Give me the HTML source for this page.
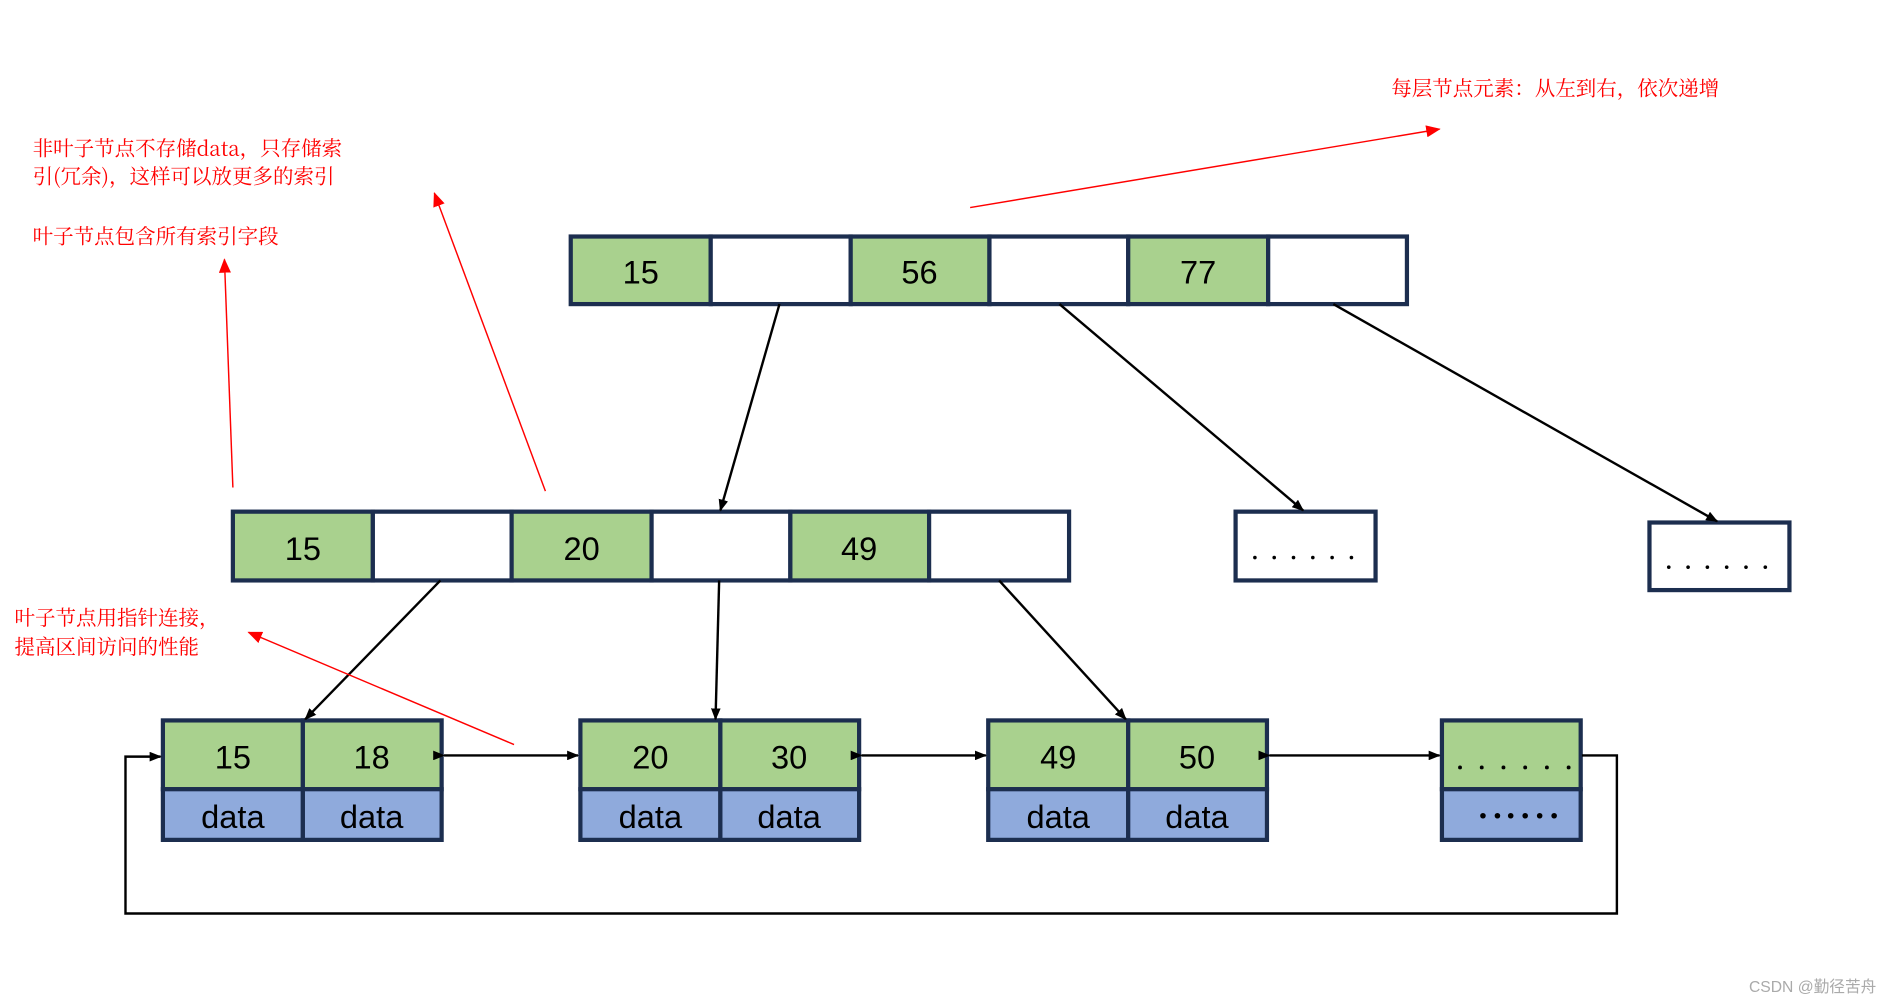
<!DOCTYPE html>
<html><head><meta charset="utf-8"><style>
html,body{margin:0;padding:0;background:#fff;}
svg{display:block}
.t{font-family:"Liberation Sans","Noto Sans CJK SC",sans-serif;fill:#000;font-size:27px;text-anchor:middle}
.r{font-family:"Noto Serif CJK SC","Noto Sans CJK SC",sans-serif;fill:#f00;font-size:17px}
</style></head><body>
<svg width="1892" height="1004" viewBox="0 0 1568 832" preserveAspectRatio="none" xmlns="http://www.w3.org/2000/svg">
<defs>
<marker id="a" markerWidth="10" markerHeight="8" refX="9" refY="4" orient="auto" markerUnits="userSpaceOnUse"><path d="M0,0 L10,4 L0,8z" fill="#000"/></marker>
<marker id="rs" markerWidth="12" markerHeight="10" refX="11" refY="5" orient="auto-start-reverse" markerUnits="userSpaceOnUse"><path d="M0,0 L12,5 L0,10z" fill="#000"/></marker>
<marker id="ra" markerWidth="12" markerHeight="10" refX="11" refY="5" orient="auto" markerUnits="userSpaceOnUse"><path d="M0,0 L12,5 L0,10z" fill="#f00"/></marker>
</defs>
<g stroke="#1c2e4f" stroke-width="3.5">
<!-- root -->
<rect x="473" y="196" width="116" height="56" fill="#a9d18e"/>
<rect x="589" y="196" width="116" height="56" fill="#fff"/>
<rect x="705" y="196" width="115" height="56" fill="#a9d18e"/>
<rect x="820" y="196" width="115" height="56" fill="#fff"/>
<rect x="935" y="196" width="116" height="56" fill="#a9d18e"/>
<rect x="1051" y="196" width="115" height="56" fill="#fff"/>
<!-- middle -->
<rect x="193" y="424" width="116" height="57" fill="#a9d18e"/>
<rect x="309" y="424" width="115" height="57" fill="#fff"/>
<rect x="424" y="424" width="116" height="57" fill="#a9d18e"/>
<rect x="540" y="424" width="115" height="57" fill="#fff"/>
<rect x="655" y="424" width="115" height="57" fill="#a9d18e"/>
<rect x="770" y="424" width="116" height="57" fill="#fff"/>
<rect x="1024" y="424" width="116" height="57" fill="#fff"/>
<rect x="1367" y="433" width="116" height="56" fill="#fff"/>
<!-- leaves -->
<rect x="135" y="597" width="116" height="57" fill="#a9d18e"/><rect x="251" y="597" width="115" height="57" fill="#a9d18e"/>
<rect x="135" y="654" width="116" height="42" fill="#8faadc"/><rect x="251" y="654" width="115" height="42" fill="#8faadc"/>
<rect x="481" y="597" width="116" height="57" fill="#a9d18e"/><rect x="597" y="597" width="115" height="57" fill="#a9d18e"/>
<rect x="481" y="654" width="116" height="42" fill="#8faadc"/><rect x="597" y="654" width="115" height="42" fill="#8faadc"/>
<rect x="819" y="597" width="116" height="57" fill="#a9d18e"/><rect x="935" y="597" width="115" height="57" fill="#a9d18e"/>
<rect x="819" y="654" width="116" height="42" fill="#8faadc"/><rect x="935" y="654" width="115" height="42" fill="#8faadc"/>
<rect x="1195" y="597" width="115" height="57" fill="#a9d18e"/>
<rect x="1195" y="654" width="115" height="42" fill="#8faadc"/>
</g>
<g class="t">
<text x="531" y="235" class="t">15</text><text x="762" y="235" class="t">56</text><text x="993" y="235" class="t">77</text>
<text x="251" y="464" class="t">15</text><text x="482" y="464" class="t">20</text><text x="712" y="464" class="t">49</text>
<text x="193" y="637" class="t">15</text><text x="308" y="637" class="t">18</text>
<text x="539" y="637" class="t">20</text><text x="654" y="637" class="t">30</text>
<text x="877" y="637" class="t">49</text><text x="992" y="637" class="t">50</text>
<text x="193" y="686" class="t">data</text><text x="308" y="686" class="t">data</text>
<text x="539" y="686" class="t">data</text><text x="654" y="686" class="t">data</text>
<text x="877" y="686" class="t">data</text><text x="992" y="686" class="t">data</text>
</g>
<g fill="#000">
<circle cx="1040" cy="462" r="1.5"/><circle cx="1056" cy="462" r="1.5"/><circle cx="1072" cy="462" r="1.5"/><circle cx="1088" cy="462" r="1.5"/><circle cx="1104" cy="462" r="1.5"/><circle cx="1120" cy="462" r="1.5"/>
<circle cx="1383" cy="470" r="1.5"/><circle cx="1399" cy="470" r="1.5"/><circle cx="1415" cy="470" r="1.5"/><circle cx="1431" cy="470" r="1.5"/><circle cx="1447" cy="470" r="1.5"/><circle cx="1463" cy="470" r="1.5"/>
<circle cx="1210" cy="636" r="1.6"/><circle cx="1228" cy="636" r="1.6"/><circle cx="1246" cy="636" r="1.6"/><circle cx="1264" cy="636" r="1.6"/><circle cx="1282" cy="636" r="1.6"/><circle cx="1300" cy="636" r="1.6"/>
<circle cx="1229" cy="676" r="2.3"/><circle cx="1241" cy="676" r="2.3"/><circle cx="1252" cy="676" r="2.3"/><circle cx="1264" cy="676" r="2.3"/><circle cx="1276" cy="676" r="2.3"/><circle cx="1288" cy="676" r="2.3"/>
</g>
<g stroke="#000" stroke-width="2" fill="none">
<line x1="646" y1="252" x2="597" y2="423" marker-end="url(#a)"/>
<line x1="878" y1="252" x2="1080" y2="423" marker-end="url(#a)"/>
<line x1="1105" y1="252" x2="1423" y2="432" marker-end="url(#a)"/>
<line x1="365" y1="481" x2="253" y2="596" marker-end="url(#a)"/>
<line x1="596" y1="481" x2="593" y2="596" marker-end="url(#a)"/>
<line x1="828" y1="481" x2="933" y2="596" marker-end="url(#a)"/>
<line x1="368" y1="626" x2="479" y2="626" marker-start="url(#a)" marker-end="url(#a)"/>
<line x1="714" y1="626" x2="817" y2="626" marker-start="url(#a)" marker-end="url(#a)"/>
<line x1="1052" y1="626" x2="1193" y2="626" marker-start="url(#a)" marker-end="url(#a)"/>
<polyline points="1311,626 1340,626 1340,757 104,757 104,627 133,627" marker-end="url(#a)"/>
</g>
<g stroke="#f00" stroke-width="1.2" fill="none">
<line x1="804" y1="172" x2="1193" y2="107" marker-end="url(#ra)"/>
<line x1="452" y1="407" x2="360" y2="160" marker-end="url(#ra)"/>
<line x1="193" y1="404" x2="186" y2="215" marker-end="url(#ra)"/>
<line x1="426" y1="617" x2="206" y2="524" marker-end="url(#ra)"/>
</g>
<text x="1153" y="79" class="r">每层节点元素：从左到右，依次递增</text>
<text x="27" y="129" class="r">非叶子节点不存储data，只存储索</text>
<text x="27" y="152" class="r">引(冗余)，这样可以放更多的索引</text>
<text x="27" y="202" class="r">叶子节点包含所有索引字段</text>
<text x="12" y="518" class="r">叶子节点用指针连接，</text>
<text x="12" y="542" class="r">提高区间访问的性能</text>
<text x="1555" y="822" style="font-family:'Liberation Sans','Noto Sans CJK SC',sans-serif;font-size:13px;fill:#aaa;text-anchor:end">CSDN @勤径苦舟</text>
</svg>
</body></html>
